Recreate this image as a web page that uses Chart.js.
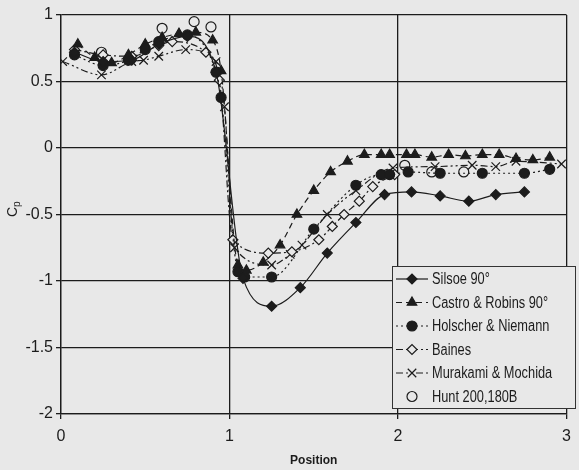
<!DOCTYPE html>
<html>
<head>
<meta charset="utf-8">
<script src="https://cdn.jsdelivr.net/npm/chart.js@4"></script>
<style>
  html, body { margin: 0; padding: 0; background: #e8e8e8; }
  canvas { display: block; }
</style>
</head>
<body>
<canvas id="cp-chart" width="579" height="470"></canvas>
<script>
const seriesNames = ["Silsoe 90°", "Castro & Robins 90°", "Holscher & Niemann", "Baines", "Murakami & Mochida", "Hunt 200,180B"];

const silsoeX = [0.08, 0.25, 0.42, 0.58, 0.75, 0.92, 1.08, 1.25, 1.42, 1.58, 1.75, 1.92, 2.08, 2.25, 2.42, 2.58, 2.75];
const silsoeY = [0.72, 0.65, 0.66, 0.78, 0.84, 0.57, -0.98, -1.19, -1.05, -0.79, -0.56, -0.35, -0.33, -0.36, -0.40, -0.35, -0.33];

const castroX = [0.1, 0.2, 0.3, 0.4, 0.5, 0.6, 0.7, 0.8, 0.9, 0.95, 1.05, 1.1, 1.2, 1.3, 1.4, 1.5, 1.6, 1.7, 1.8, 1.9, 1.95, 2.05, 2.1, 2.2, 2.3, 2.4, 2.5, 2.6, 2.7, 2.8, 2.9];
const castroY = [0.78, 0.68, 0.64, 0.70, 0.78, 0.83, 0.86, 0.87, 0.81, 0.58, -0.88, -0.92, -0.86, -0.73, -0.50, -0.32, -0.18, -0.10, -0.05, -0.05, -0.05, -0.05, -0.05, -0.07, -0.05, -0.06, -0.05, -0.05, -0.08, -0.09, -0.07];

const holscherX = [0.08, 0.25, 0.4, 0.5, 0.58, 0.75, 0.92, 0.95, 1.05, 1.09, 1.25, 1.5, 1.75, 1.9, 1.95, 2.06, 2.25, 2.5, 2.75, 2.9];
const holscherY = [0.70, 0.62, 0.66, 0.74, 0.80, 0.85, 0.57, 0.38, -0.93, -0.97, -0.97, -0.61, -0.28, -0.20, -0.20, -0.18, -0.19, -0.19, -0.19, -0.16];

const bainesX = [0.08, 0.25, 0.42, 0.58, 0.66, 0.86, 0.94, 1.02, 1.23, 1.37, 1.53, 1.61, 1.68, 1.77, 1.85, 1.98];
const bainesY = [0.74, 0.70, 0.69, 0.77, 0.80, 0.72, 0.51, -0.69, -0.79, -0.78, -0.69, -0.59, -0.50, -0.40, -0.29, -0.20];

const murakamiX = [0.01, 0.24, 0.42, 0.49, 0.58, 0.74, 0.92, 0.97, 1.03, 1.25, 1.36, 1.43, 1.58, 1.75, 1.97, 2.22, 2.44, 2.58, 2.7, 2.97];
const murakamiY = [0.65, 0.55, 0.65, 0.66, 0.69, 0.74, 0.65, 0.31, -0.75, -0.88, -0.80, -0.73, -0.50, -0.32, -0.15, -0.14, -0.13, -0.14, -0.10, -0.12];

const huntX = [0.24, 0.6, 0.79, 0.89, 2.04, 2.2, 2.39];
const huntY = [0.72, 0.90, 0.95, 0.91, -0.13, -0.18, -0.18];

const xTicks = [0, 1, 2, 3];
const yTicks = [1, 0.5, 0, -0.5, -1, -1.5, -2];

const bg = "#e8e8e8";
const ink = "#1c1c1c";
const pts = (xs, ys) => xs.map((x, i) => ({ x: x, y: ys[i] }));

const datasets = [
  { label: seriesNames[0], data: pts(silsoeX, silsoeY), borderDash: [], pointStyle: "rectRot", pointRadius: 5, pointBackgroundColor: ink, showLine: true },
  { label: seriesNames[1], data: pts(castroX, castroY), borderDash: [6, 4], pointStyle: "triangle", pointRadius: 5.5, pointBackgroundColor: ink, showLine: true },
  { label: seriesNames[2], data: pts(holscherX, holscherY), borderDash: [2, 3], pointStyle: "circle", pointRadius: 5, pointBackgroundColor: ink, showLine: true },
  { label: seriesNames[3], data: pts(bainesX, bainesY), borderDash: [7, 3, 2, 3], pointStyle: "rectRot", pointRadius: 5, pointBackgroundColor: bg, showLine: true },
  { label: seriesNames[4], data: pts(murakamiX, murakamiY), borderDash: [7, 3, 2, 3, 2, 3], pointStyle: "crossRot", pointRadius: 6, pointBackgroundColor: ink, showLine: true },
  { label: seriesNames[5], data: pts(huntX, huntY), borderDash: [], pointStyle: "circle", pointRadius: 5, pointBackgroundColor: bg, showLine: false },
].map(d => Object.assign({
  borderColor: ink,
  borderWidth: 1.2,
  pointBorderColor: ink,
  pointBorderWidth: 1.2,
  cubicInterpolationMode: "monotone",
  fill: false,
}, d));

// legend box with line sample + marker, like the original
const boxLegend = {
  id: "boxLegend",
  afterDatasetsDraw(chart) {
    const ctx = chart.ctx;
    const left = 392, top = 266, w = 183, h = 142;
    ctx.save();
    ctx.fillStyle = bg;
    ctx.fillRect(left, top, w, h);
    ctx.strokeStyle = "#333";
    ctx.lineWidth = 1;
    ctx.strokeRect(left + 0.5, top + 0.5, w, h);
    ctx.textBaseline = "middle";
    datasets.forEach((d, i) => {
      const y = top + 13 + i * 23.5;
      if (d.showLine) {
        ctx.setLineDash(d.borderDash);
        ctx.strokeStyle = ink;
        ctx.lineWidth = 1.2;
        ctx.beginPath();
        ctx.moveTo(left + 4, y);
        ctx.lineTo(left + 36, y);
        ctx.stroke();
        ctx.setLineDash([]);
      }
      ctx.fillStyle = d.pointBackgroundColor;
      ctx.strokeStyle = ink;
      ctx.lineWidth = 1.2;
      Chart.helpers.drawPoint(ctx, { pointStyle: d.pointStyle, radius: d.pointRadius, rotation: 0, borderWidth: 1.2 }, left + 20, y);
      // narrow lettering as in the scan
      ctx.save();
      ctx.translate(left + 40, y + 1);
      ctx.scale(0.8, 1);
      ctx.font = '16px "Liberation Sans", Arial, sans-serif';
      ctx.fillStyle = ink;
      ctx.fillText(d.label, 0, 0);
      ctx.restore();
    });
    ctx.restore();
  },
  afterDraw(chart) {
    // y axis title "Cp" with subscript p
    const ctx = chart.ctx;
    ctx.save();
    ctx.translate(17, 217);
    ctx.rotate(-Math.PI / 2);
    ctx.fillStyle = ink;
    ctx.textBaseline = "alphabetic";
    ctx.font = '14px "Liberation Sans", Arial, sans-serif';
    ctx.fillText("C", 0, 0);
    ctx.font = '10px "Liberation Sans", Arial, sans-serif';
    ctx.fillText("p", 10, 3);
    ctx.restore();
  }
};

new Chart(document.getElementById("cp-chart"), {
  type: "line",
  data: { datasets: datasets },
  plugins: [boxLegend],
  options: {
    responsive: false,
    animation: false,
    layout: { padding: { top: 15, right: 4, left: 0, bottom: 0 } },
    plugins: {
      legend: { display: false },
      tooltip: { enabled: false },
    },
    scales: {
      x: {
        type: "linear",
        min: 0,
        max: 3,
        afterBuildTicks: s => { s.ticks = xTicks.map(v => ({ value: v })); },
        afterFit: s => { s.height = 56; },
        ticks: { color: ink, font: { size: 16, family: '"Liberation Sans", Arial' }, padding: 8 },
        grid: { color: ink, lineWidth: 1.3, tickLength: 5 },
        border: { color: ink, width: 1.3 },
        title: { display: true, text: "Position", color: ink, font: { size: 12, weight: "bold", family: '"Liberation Sans", Arial' }, padding: { top: 0, bottom: 2 } },
      },
      y: {
        min: -2,
        max: 1,
        afterBuildTicks: s => { s.ticks = yTicks.map(v => ({ value: v })); },
        afterFit: s => { s.width = 61; },
        ticks: { color: ink, font: { size: 16, family: '"Liberation Sans", Arial' }, padding: 3, callback: v => String(v) },
        grid: { color: ink, lineWidth: 1.3, tickLength: 5 },
        border: { color: ink, width: 1.3 },
      },
    },
  },
});
</script>
</body>
</html>
